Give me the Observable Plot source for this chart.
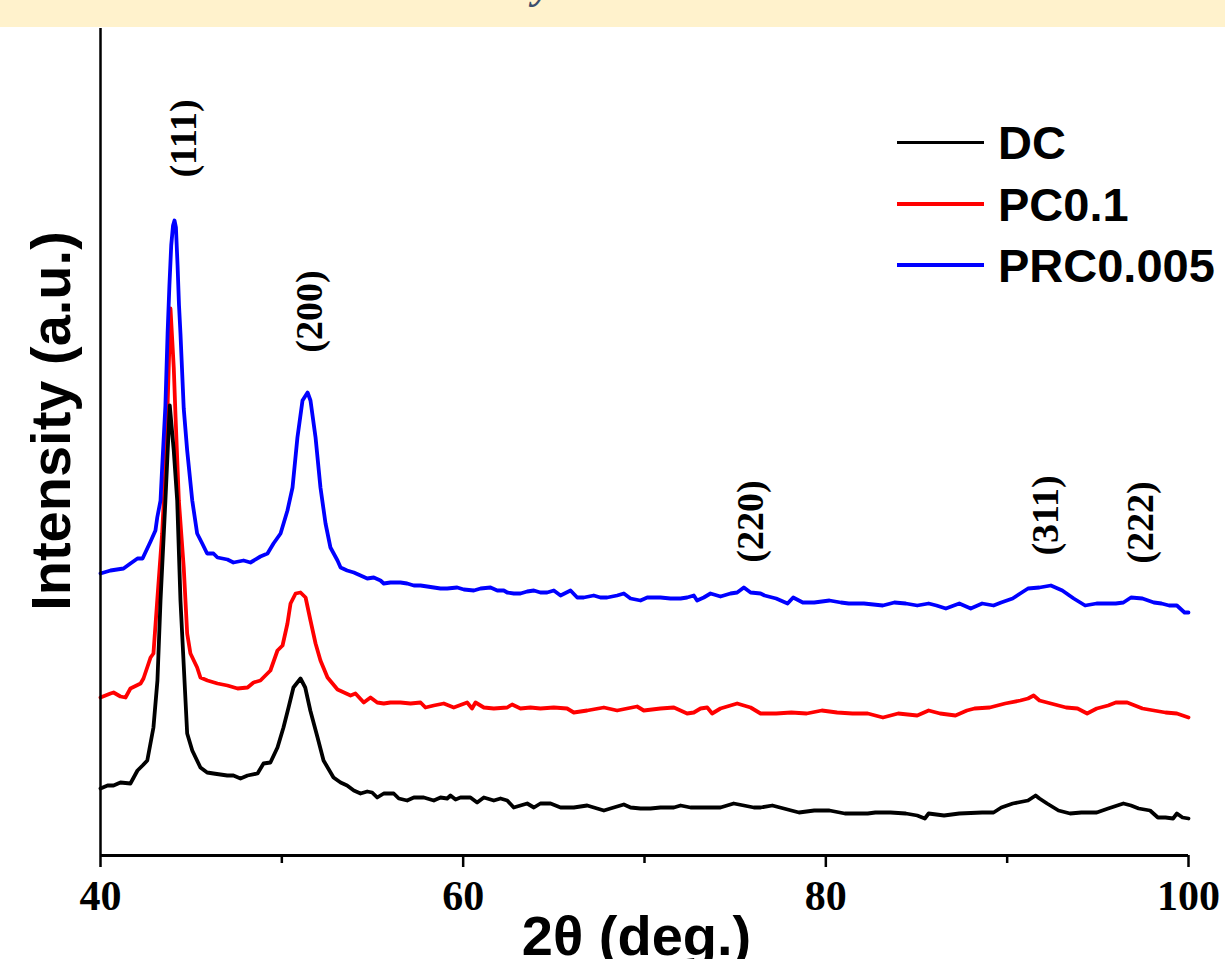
<!DOCTYPE html>
<html><head><meta charset="utf-8">
<script src="https://cdn.jsdelivr.net/npm/d3@7"></script>
<script src="https://cdn.jsdelivr.net/npm/@observablehq/plot@0.6"></script>
<style>
body{margin:0;background:#fff;width:1225px;height:959px;overflow:hidden;position:relative;font-family:"Liberation Sans",Arial,sans-serif}
#band{height:27px;background:#FFF2CC;position:relative;overflow:hidden}
#band span{position:absolute;left:533px;top:-40px;font:italic bold 42px "Liberation Serif";color:#3B4E6B}
.row{position:absolute;left:897px;height:60px;display:flex;align-items:center}
.sw{width:87px}
.lb{margin-left:14px;font-weight:bold;font-size:47px;line-height:1;color:#000}
#chart svg{display:block}
</style></head>
<body>
<div id="band"><span>y</span></div>
<div id="chart"></div>
<div class="row" style="top:112px"><div class="sw" style="height:3px;background:#000"></div><div class="lb">DC</div></div>
<div class="row" style="top:174px"><div class="sw" style="height:4px;background:#ff0000"></div><div class="lb">PC0.1</div></div>
<div class="row" style="top:235px"><div class="sw" style="height:4px;background:#0000ff"></div><div class="lb">PRC0.005</div></div>
<script>
const dcTheta = [40.00,40.39,40.72,41.10,41.65,42.04,42.32,42.58,42.92,43.14,43.31,43.58,43.82,44.04,44.23,44.41,44.78,45.06,45.51,45.88,46.23,46.99,47.33,47.72,48.11,48.66,48.99,49.37,49.76,50.09,50.37,50.64,51.03,51.29,51.57,51.97,52.30,52.85,53.24,53.60,53.97,54.34,54.71,54.98,55.26,55.62,56.17,56.45,56.91,57.28,57.83,58.38,58.75,59.12,59.30,59.58,59.85,60.40,60.77,61.14,61.69,62.06,62.43,62.79,63.16,63.53,63.90,64.26,64.82,65.37,66.10,66.84,67.39,67.76,68.12,68.86,69.23,69.78,70.33,70.88,71.62,71.99,72.54,73.46,74.19,74.92,75.48,76.03,76.41,77.05,77.68,78.52,79.36,80.20,81.05,82.31,82.73,83.57,84.41,85.04,85.46,85.67,86.52,87.36,88.62,89.25,89.68,90.31,91.15,91.57,91.78,92.20,92.83,93.47,94.09,94.94,95.57,96.41,96.83,97.25,97.88,98.31,98.73,99.15,99.36,99.67,100.00];
const dcIntensity = [67,70,70,73,72,85,90,95,128,175,255,355,450,405,355,255,122,105,88,83,82,80,80,77,80,82,92,93,108,128,148,168,177,168,145,118,95,78,73,70,65,62,64,63,58,62,62,57,55,58,58,55,58,57,60,56,58,58,53,58,55,57,55,48,50,52,48,52,52,48,48,50,47,45,47,51,48,47,47,48,48,50,48,48,48,52,50,48,48,50,47,43,45,45,42,42,43,43,42,40,37,42,40,42,43,43,48,52,55,60,57,52,45,42,43,43,47,52,50,47,45,38,38,37,42,38,37];

const pcTheta = [40.00,40.55,40.72,41.10,41.38,41.65,42.21,42.37,42.65,42.76,42.92,43.13,43.40,43.58,43.68,43.86,44.04,44.14,44.32,44.59,44.78,44.96,45.33,45.51,45.90,46.45,47.00,47.56,48.11,48.44,48.82,49.37,49.76,50.04,50.31,50.48,50.76,51.03,51.31,51.58,51.86,52.13,52.52,53.07,53.79,54.06,54.52,54.89,55.26,55.62,55.99,56.54,57.10,57.65,57.92,58.38,58.93,59.48,60.22,60.49,60.68,61.14,61.69,62.43,62.70,63.16,63.71,64.26,65.00,65.73,66.10,66.84,67.76,68.49,69.04,69.59,69.96,70.88,71.62,72.35,72.72,73.09,73.46,73.73,74.19,75.11,75.85,76.40,77.26,78.10,78.94,79.78,80.62,81.47,82.31,83.15,83.99,85.04,85.67,86.30,87.15,87.78,88.20,89.04,89.89,90.73,91.15,91.46,91.78,92.20,92.83,93.25,93.88,94.41,94.94,95.57,95.99,96.62,97.04,97.46,98.09,98.73,99.36,100.00];
const pcIntensity = [158,162,163,159,158,167,172,177,192,198,202,255,322,388,438,547,488,438,355,288,222,202,188,178,175,172,170,167,168,173,175,185,205,210,232,252,262,263,258,235,212,195,178,166,160,162,153,158,153,152,153,153,152,153,148,150,152,148,153,147,153,148,147,148,151,147,148,147,148,147,143,145,148,145,147,149,145,147,148,142,143,147,148,142,147,152,148,142,142,143,142,145,143,142,142,138,142,140,145,142,140,145,147,148,152,155,157,160,155,153,150,148,147,142,147,150,153,153,150,147,145,143,142,138];

const prcTheta = [40.00,40.55,41.27,41.65,42.04,42.32,42.76,43.03,43.13,43.31,43.40,43.58,43.70,43.80,43.90,44.00,44.08,44.16,44.25,44.33,44.41,44.59,44.78,45.06,45.33,45.61,45.88,46.23,46.45,47.00,47.33,47.89,48.27,48.82,49.21,49.54,49.93,50.31,50.59,50.86,51.14,51.42,51.58,51.86,52.13,52.41,52.68,53.07,53.24,53.60,53.97,54.34,54.71,55.07,55.44,55.62,55.99,56.54,56.91,57.28,57.65,58.02,58.38,58.75,59.12,59.67,60.04,60.59,60.96,61.51,61.88,62.24,62.43,62.79,63.16,63.53,63.90,64.26,64.63,65.00,65.37,65.92,66.29,66.65,67.20,67.57,67.94,68.49,68.86,69.23,69.78,70.15,70.88,71.43,71.99,72.35,72.72,72.90,73.27,73.64,74.19,74.74,75.11,75.48,75.85,76.40,76.62,77.26,77.89,78.20,78.73,79.36,80.20,80.83,81.26,82.10,83.14,83.78,84.41,85.04,85.67,86.10,86.62,87.36,87.99,88.62,89.25,89.67,90.30,90.72,91.15,91.78,92.41,93.04,93.67,94.30,94.93,95.99,96.41,96.83,97.46,98.09,98.51,98.93,99.36,99.78,100.00];
const prcIntensity = [282,285,287,292,297,297,314,325,338,355,388,450,522,570,610,630,635,628,590,550,522,447,405,355,322,312,302,302,298,296,293,295,293,299,302,312,322,345,368,418,455,463,455,418,368,332,308,295,288,285,283,280,277,278,275,272,273,273,272,270,270,269,268,267,267,268,266,265,267,268,265,265,263,262,262,264,265,263,263,265,260,265,258,258,260,258,258,260,262,257,255,258,258,257,257,258,260,255,258,262,259,262,263,268,263,262,260,257,252,258,253,253,255,253,252,252,250,253,252,250,252,250,247,252,247,252,250,253,257,262,267,268,270,265,257,250,252,252,253,258,257,253,252,250,250,243,243];

const peakLabels = ["(111)","(200)","(220)","(311)","(222)"];
const peakTheta = [44.58,51.53,75.85,92.11,97.35];
const peakY = [717,544,334,340,333];

const xMajorTicks = [40,60,80,100];
const xMinorTicks = [50,70,90];

const toRows = (xs, ys) => xs.map((x, i) => ({theta: x, intensity: ys[i]}));
const dc = toRows(dcTheta, dcIntensity);
const pc = toRows(pcTheta, pcIntensity);
const prc = toRows(prcTheta, prcIntensity);
const labels = peakLabels.map((t, i) => ({text: t, theta: peakTheta[i], y: peakY[i]}));

const lineOpts = {x: "theta", y: "intensity", strokeWidth: 3.8, strokeLinejoin: "round", strokeLinecap: "round"};

const chart = Plot.plot({
  width: 1225, height: 932,
  marginLeft: 100, marginRight: 37, marginTop: 1, marginBottom: 104,
  x: {domain: [40, 100]},
  y: {domain: [0, 827], axis: null},
  style: {background: "transparent", overflow: "visible"},
  marks: [
    Plot.line(pc, {...lineOpts, stroke: "#ff0000"}),
    Plot.line(dc, {...lineOpts, stroke: "#000000"}),
    Plot.line(prc, {...lineOpts, stroke: "#0000ff"}),
    Plot.ruleX([40], {stroke: "#000", strokeWidth: 2.5}),
    Plot.ruleY([0], {stroke: "#000", strokeWidth: 3}),
    Plot.axisX({ticks: xMajorTicks, tickSize: 12, tickPadding: 13, tickFormat: "d", label: null,
      fontSize: 42, fontFamily: "Liberation Serif", fontWeight: "bold", strokeWidth: 2.5, color: "#000"}),
    Plot.axisX({ticks: xMinorTicks, tickSize: 8, tickFormat: () => "", label: null, strokeWidth: 2.5}),
    Plot.text(labels, {x: "theta", y: "y", text: "text", rotate: -90, fontSize: 38,
      fontFamily: "Liberation Serif", fontWeight: "bold", fill: "#000"}),
    Plot.text(["2θ (deg.)"], {frameAnchor: "bottom", lineAnchor: "top", dy: 60, dx: -8,
      fontSize: 56, fontWeight: "bold", fontFamily: "Liberation Sans", fill: "#000"}),
    Plot.text(["Intensity (a.u.)"], {frameAnchor: "left", textAnchor: "middle", lineAnchor: "top", rotate: -90, dx: -70, dy: -21,
      fontSize: 56, fontWeight: "bold", fontFamily: "Liberation Sans", fill: "#000"})
  ]
});
document.getElementById("chart").appendChild(chart);
</script>
</body></html>
